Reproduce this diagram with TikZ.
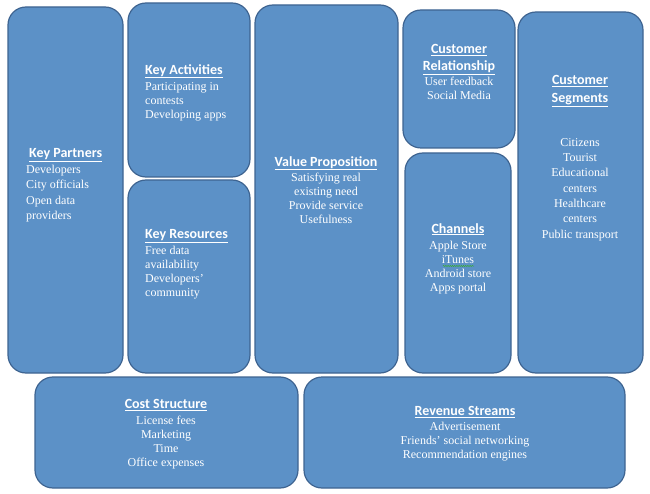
\documentclass[tikz,border=0pt]{standalone}
\usepackage{fontspec}
\usetikzlibrary{decorations.pathmorphing}
\setmainfont{Liberation Serif}
\newfontfamily\hdfont{Carlito}
\definecolor{boxfill}{RGB}{92,145,199}
\definecolor{boxline}{RGB}{62,100,145}
\definecolor{spell}{RGB}{60,170,60}
\newcommand{\hd}[1]{{\hdfont\bfseries\fontsize{14}{15}\selectfont\underline{#1}}}
\begin{document}
\begin{tikzpicture}[x=1pt,y=-1pt,
  box/.style={draw=boxline, fill=boxfill, line width=1.2pt, rounded corners=18pt, inner sep=0pt, outer sep=0pt},
  txt/.style={text=white, inner sep=0pt, font=\fontsize{12}{14}\selectfont},
  txtl/.style={txt, align=left, anchor=north west},
  txtc/.style={txt, align=center, anchor=north},
  wavy/.style={draw=spell, line width=0.5pt, decorate, decoration={snake, amplitude=0.7pt, segment length=2.2pt}}]
\useasboundingbox (0,0) rectangle (650,494);
% boxes
\node[box, minimum width=115pt, minimum height=366pt] (kp) at (65.5,190) {};
\node[box, minimum width=122pt, minimum height=174pt] (ka) at (189,90) {};
\node[box, minimum width=122pt, minimum height=193pt] (kr) at (189,276.5) {};
\node[box, minimum width=143pt, minimum height=368pt] (vp) at (326.5,189) {};
\node[box, minimum width=112pt, minimum height=138pt] (cr) at (459,79) {};
\node[box, minimum width=106pt, minimum height=220pt] (ch) at (458,263) {};
\node[box, minimum width=125pt, minimum height=361pt] (cs) at (580.5,192.5) {};
\node[box, minimum width=263pt, minimum height=111pt] (co) at (166.5,432.5) {};
\node[box, minimum width=321pt, minimum height=111pt] (rs) at (464.5,432.5) {};
% texts
\node[txtl, font=\fontsize{12}{15.3}\selectfont] (kpt) at (26,148) {\hspace{3pt}\hd{Key Partners}\\[1pt]Developers\\City officials\\Open data\\providers};
\node[txtl] (kat) at (145,64) {\hd{Key Activities}\\[2pt]Participating in\\contests\\Developing apps};
\node[txtl] (krt) at (145,229) {\hd{Key Resources}\\[2pt]Free data\\availability\\Developers'\\community};
\node[txtc] (vpt) at (326,156) {\hd{Value Proposition}\\[1pt]Satisfying real\\existing need\\Provide service\\Usefulness};
\node[txtc] (crt) at (459,44) {\hd{Customer}\\[3pt]\hd{Relationship}\\[1pt]User feedback\\Social Media};
\node[txtc] (cht) at (458,223) {\hd{Channels}\\[2pt]Apple Store\\iTunes\\Android store\\Apps portal};
\node[txtc, font=\fontsize{12}{15.3}\selectfont] (cst) at (580,75) {\hd{Customer}\\[2.7pt]\hd{Segments}\\[28.7pt]Citizens\\Tourist\\Educational\\centers\\Healthcare\\centers\\Public transport};
\node[txtc] (cot) at (166,399) {\hd{Cost Structure}\\[2pt]License fees\\Marketing\\Time\\Office expenses};
\node[txtc] (rst) at (465,406) {\hd{Revenue Streams}\\[1pt]Advertisement\\Friends' social networking\\Recommendation engines};
% spell-check mark under iTunes
\coordinate (itA) at (443,266);
\coordinate (itB) at (474,266);
\draw[wavy] (itA) -- (itB);
\end{tikzpicture}
\end{document}
